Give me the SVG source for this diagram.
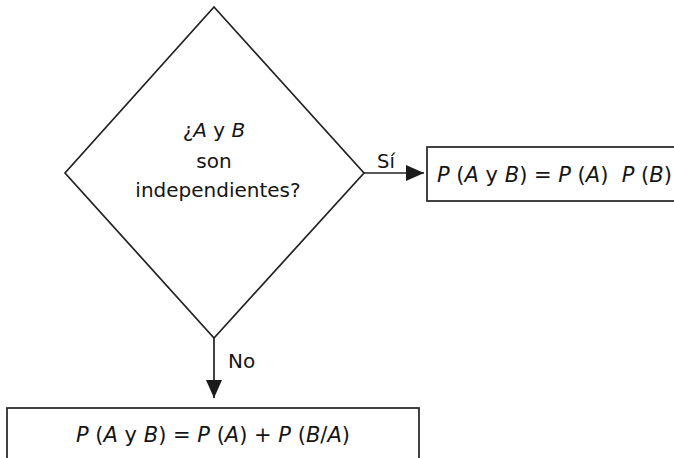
<svg xmlns="http://www.w3.org/2000/svg" width="674" height="458" viewBox="0 0 674 458">
  <defs>
    <marker id="arrow" markerUnits="userSpaceOnUse" markerWidth="18" markerHeight="18" viewBox="0 0 18 18" refX="18" refY="9" orient="auto">
      <path d="M0,1 L18,9 L0,17 Z" fill="#1a1a1a"/>
    </marker>
  </defs>
  <style>
    .shape { fill: #ffffff; stroke: #222222; stroke-width: 1.7; }
    .conn { fill: none; stroke: #222222; stroke-width: 1.7; }
    text { font-family: "DejaVu Sans", "Liberation Sans", sans-serif; fill: #151515; white-space: pre; }
    .it { font-style: italic; }
  </style>
  <rect width="674" height="458" fill="#ffffff"/>

  <g id="decision">
    <polygon class="shape" points="214,7 364,173 214,338 65,173"/>
    <text x="214" y="137" font-size="20" text-anchor="middle">¿<tspan class="it">A</tspan> y <tspan class="it">B</tspan></text>
    <text x="214" y="168" font-size="20" text-anchor="middle">son</text>
    <text x="218" y="197" font-size="20" text-anchor="middle">independientes?</text>
  </g>

  <g id="independent">
    <rect class="shape" x="427" y="147" width="252" height="54"/>
    <text x="437" y="182" font-size="21" xml:space="preserve"><tspan class="it">P</tspan> (<tspan class="it">A</tspan> y <tspan class="it">B</tspan>) = <tspan class="it">P</tspan> (<tspan class="it">A</tspan>)  <tspan class="it">P</tspan> (<tspan class="it">B</tspan>)</text>
  </g>

  <g id="dependent">
    <rect class="shape" x="7" y="408" width="412" height="60"/>
    <text x="213" y="442" font-size="21" text-anchor="middle"><tspan class="it">P</tspan> (<tspan class="it">A</tspan> y <tspan class="it">B</tspan>) = <tspan class="it">P</tspan> (<tspan class="it">A</tspan>) + <tspan class="it">P</tspan> (<tspan class="it">B</tspan>/<tspan class="it">A</tspan>)</text>
  </g>

  <g id="connectors">
    <line class="conn" x1="364" y1="173" x2="424" y2="173" marker-end="url(#arrow)"/>
    <text x="377" y="168" font-size="19.5">Sí</text>
    <line class="conn" x1="214" y1="338" x2="214" y2="398" marker-end="url(#arrow)"/>
    <text x="228" y="368" font-size="20">No</text>
  </g>
</svg>
